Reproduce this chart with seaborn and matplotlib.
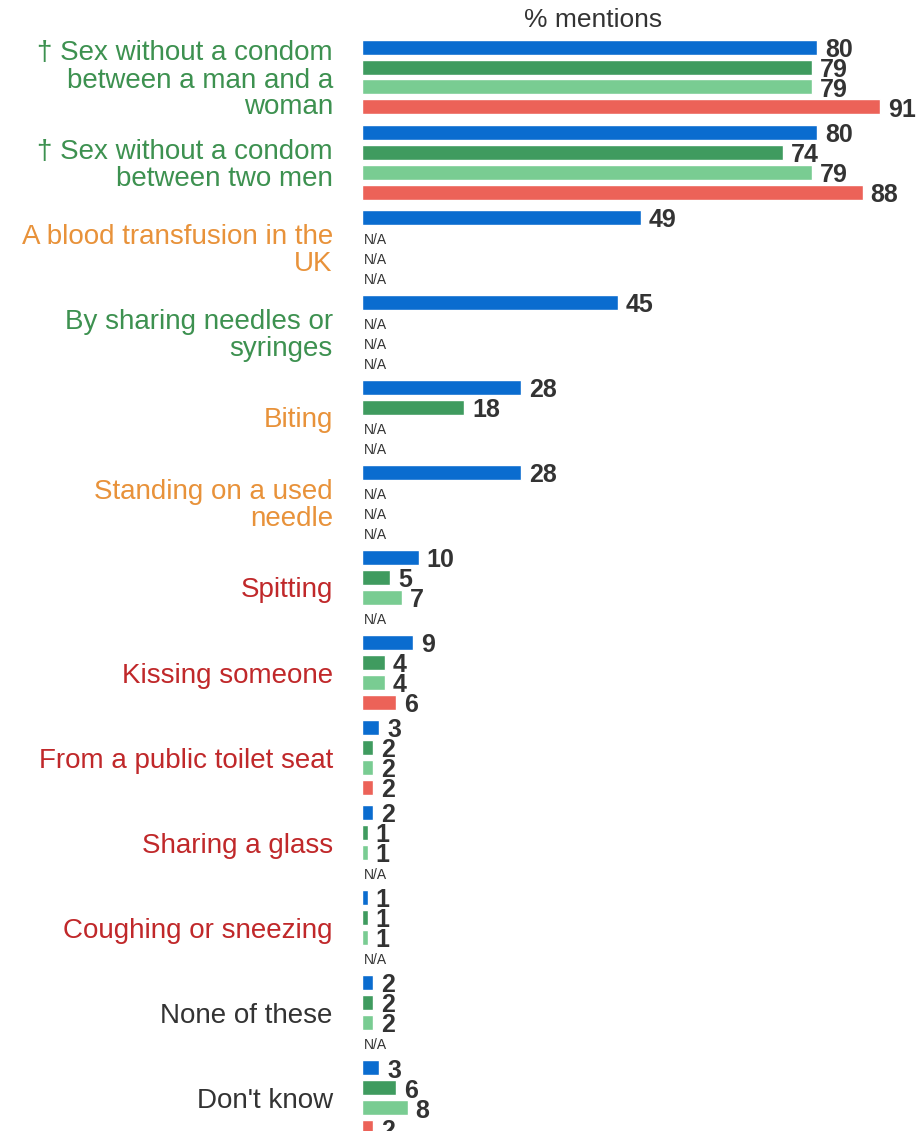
import numpy as np
import pandas as pd
import matplotlib
matplotlib.use("Agg")
import matplotlib.pyplot as plt
import seaborn as sns

categories = [
    "† Sex without a condom\nbetween a man and a\nwoman",
    "† Sex without a condom\nbetween two men",
    "A blood transfusion in the\nUK",
    "By sharing needles or\nsyringes",
    "Biting",
    "Standing on a used\nneedle",
    "Spitting",
    "Kissing someone",
    "From a public toilet seat",
    "Sharing a glass",
    "Coughing or sneezing",
    "None of these",
    "Don't know",
]
label_colors = ["#3d9150", "#3d9150", "#e8923a", "#3d9150", "#e8923a", "#e8923a",
                "#c0282a", "#c0282a", "#c0282a", "#c0282a", "#c0282a", "#333333", "#333333"]

series_names = ["Series 1", "Series 2", "Series 3", "Series 4"]
nan = np.nan
series_1 = [80, 80, 49, 45, 28, 28, 10, 9, 3, 2, 1, 2, 3]
series_2 = [79, 74, nan, nan, 18, nan, 5, 4, 2, 1, 1, 2, 6]
series_3 = [79, 79, nan, nan, nan, nan, 7, 4, 2, 1, 1, 2, 8]
series_4 = [91, 88, nan, nan, nan, nan, nan, 6, 2, nan, nan, nan, 2]
series_colors = ["#0a6ccf", "#3f9b5f", "#79cc92", "#ec6258"]

all_series = [series_1, series_2, series_3, series_4]
rows = []
for name, vals in zip(series_names, all_series):
    for c, v in zip(categories, vals):
        rows.append({"category": c, "series": name, "value": v})
df = pd.DataFrame(rows)

sns.set_style("white")
plt.rcParams["font.family"] = ["Liberation Sans", "DejaVu Sans"]

W, H = 924, 1131
fig = plt.figure(figsize=(W / 100, H / 100), dpi=100)
ax_left, ax_right, ax_top = 362, 920, 30
ax = fig.add_axes([ax_left / W, 0, (ax_right - ax_left) / W, (H - ax_top) / H])

width = 0.94
sns.barplot(data=df.dropna(), x="value", y="category", hue="series",
            order=categories, hue_order=series_names, palette=series_colors,
            orient="h", width=width, gap=0.25, dodge=True, legend=False,
            errorbar=None, ax=ax, saturation=1)

px_per_unit = 5.69
ax.set_xlim(0, (ax_right - ax_left) / px_per_unit)
grp_px = 85.08
ax.set_ylim((H - 77) / grp_px, (ax_top - 77) / grp_px)

for sp in ax.spines.values():
    sp.set_visible(False)
ax.set_xticks([])
ax.set_xlabel("")
ax.set_ylabel("")
ax.tick_params(axis="y", length=0, pad=21)
ax.set_yticks(range(len(categories)))
ax.set_yticklabels(categories, fontsize=20, linespacing=1.05)
for t, col in zip(ax.get_yticklabels(), label_colors):
    t.set_color(col)

# value labels from drawn bars
for cont in ax.containers:
    for bar in cont:
        w = bar.get_width()
        if np.isnan(w):
            continue
        yc = bar.get_y() + bar.get_height() / 2
        ax.text(w + 1.4, yc + 0.03, f"{int(round(w))}", ha="left", va="center",
                fontsize=18, fontweight="bold", color="#333333")

# N/A markers for missing values
slot = width / len(series_names)
for j, vals in enumerate(all_series):
    for k, v in enumerate(vals):
        if np.isnan(v):
            yc = k + (j - 1.5) * slot
            ax.text(0.3, yc + 0.03, "N/A", ha="left", va="center",
                    fontsize=10, color="#333333")

fig.text(593 / W, 1 - 20 / H, "% mentions", ha="center", va="center",
         fontsize=19, color="#333333")

fig.savefig("out.png", dpi=100)
